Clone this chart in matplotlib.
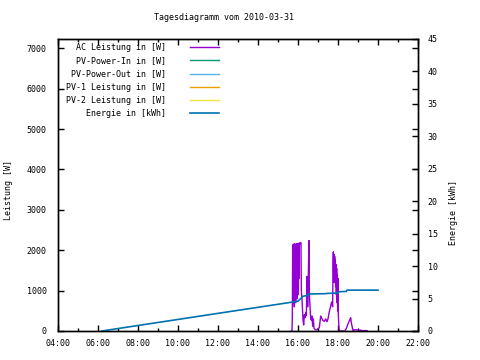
import matplotlib
matplotlib.use("Agg")
import matplotlib.pyplot as plt
from matplotlib.ticker import MultipleLocator, FuncFormatter

plt.rcParams['font.family'] = 'DejaVu Sans Mono'
plt.rcParams['font.size'] = 6

# AC Leistung [W] (Zeit als HH:MM)
ac_zeit = ["15:40", "15:42", "15:43", "15:44", "15:45", "15:46", "15:47", "15:48", "15:49", "15:50",
           "15:51", "15:52", "15:53", "15:54", "15:55", "15:56", "15:57", "15:58", "15:59", "16:00",
           "16:01", "16:02", "16:03", "16:04", "16:05", "16:06", "16:07", "16:08", "16:09", "16:10",
           "16:12", "16:15", "16:17", "16:19", "16:21", "16:23", "16:25", "16:27", "16:29", "16:31",
           "16:33", "16:34", "16:36", "16:38", "16:40", "16:42", "16:44", "16:46", "16:48", "16:51",
           "16:54", "16:57", "17:00", "17:04", "17:08", "17:11", "17:15", "17:19", "17:23", "17:27",
           "17:30", "17:34", "17:38", "17:41", "17:44", "17:45", "17:46", "17:47", "17:48", "17:49",
           "17:50", "17:51", "17:52", "17:53", "17:54", "17:55", "17:56", "17:57", "17:58", "17:59",
           "18:00", "18:01", "18:03", "18:06", "18:20", "18:25", "18:30", "18:35", "18:38", "18:40",
           "18:44", "18:46", "18:48", "18:55", "19:05", "19:10", "19:12", "19:15", "19:27", "19:28"]
ac_leistung = [0, 0, 380, 2100, 700, 2150, 900, 2130, 600, 2160,
               1000, 2140, 700, 2150, 1200, 2160, 800, 2150, 1400, 2170,
               900, 2160, 1300, 2180, 2150, 2170, 2160, 2190, 2150, 1000,
               780, 280, 150, 400, 330, 450, 380, 1350, 600, 1400,
               2240, 950, 600, 320, 270, 370, 120, 300, 70, 40,
               25, 30, 60, 80, 370, 320, 260, 240, 300, 230,
               300, 480, 620, 720, 600, 1600, 1960, 1300, 1900, 1200,
               1850, 1500, 1750, 1100, 1650, 900, 1550, 700, 1400, 500,
               1300, 400, 50, 0, 0, 60, 180, 270, 330, 200,
               50, 0, 30, 30, 20, 20, 0, 10, 10, 0]

# Energie [kWh]
energie_zeit = ["06:12", "08:00", "10:00", "12:00", "14:00", "15:45", "16:00", "16:08", "16:15", "16:30",
                "16:32", "17:20", "17:30", "18:00", "18:02", "18:25", "18:27", "20:00"]
energie = [0, 0.85, 1.78, 2.72, 3.65, 4.47, 4.6, 5.0, 5.35, 5.5,
           5.7, 5.75, 5.8, 5.85, 6.05, 6.1, 6.3, 6.3]

labels = ["AC Leistung in [W]", "PV-Power-In in [W]", "PV-Power-Out in [W]",
          "PV-1 Leistung in [W]", "PV-2 Leistung in [W]", "Energie in [kWh]"]
farben = ["#9400d3", "#009e73", "#56b4e9", "#e69f00", "#f0e442", "#0072b2"]


def stunden(liste):
    return [int(t[:2]) + int(t[3:]) / 60 for t in liste]


fig = plt.figure(figsize=(4.8, 3.6), dpi=100)
ax = fig.add_axes([58 / 480, 29 / 360, 360 / 480, 292 / 360])
ax2 = ax.twinx()

breite = max(len(l) for l in labels)
texte = [l.rjust(breite) for l in labels]

h = []
h += ax.plot(stunden(ac_zeit), ac_leistung, color=farben[0], lw=1.0)
for f in farben[1:5]:
    h += ax.plot([], [], color=f, lw=1.0)
h += ax2.plot(stunden(energie_zeit), energie, color=farben[5], lw=1.2)

ax.set_xlim(4, 22)
ax.set_ylim(0, 7230)
ax2.set_ylim(0, 45)

ax.xaxis.set_major_locator(MultipleLocator(2))
ax.xaxis.set_minor_locator(MultipleLocator(1))
ax.xaxis.set_major_formatter(FuncFormatter(lambda v, p: "%02d:00" % int(round(v))))
ax.yaxis.set_major_locator(MultipleLocator(1000))
ax2.yaxis.set_major_locator(MultipleLocator(5))

ax.tick_params(which='both', direction='in', top=True, right=True, width=1)
ax.tick_params(which='major', length=4)
ax.tick_params(which='minor', length=2)
ax.tick_params(axis='y', pad=8)
ax.tick_params(axis='x', pad=6)
ax2.tick_params(direction='in', length=4, width=1, pad=7)
for a in (ax, ax2):
    for s in a.spines.values():
        s.set_linewidth(1)

ax.set_ylabel("Leistung [W]")
ax.yaxis.set_label_coords(-0.125, 0.483)
ax2.set_ylabel("Energie [kWh]")
ax2.yaxis.set_label_coords(1.087, 0.405)

fig.text(223.5 / 480, 1 - 18 / 360, "Tagesdiagramm vom 2010-03-31", ha='center', va='center')

ax2.legend(h, texte, loc='upper left', bbox_to_anchor=(0.011, 1.0), frameon=False,
           markerfirst=False, handlelength=3.4, handletextpad=2.9, labelspacing=0.5,
           borderpad=0.3, borderaxespad=0.2, prop={'family': 'DejaVu Sans Mono', 'size': 6})

fig.savefig("out.png", dpi=100)
plt.close()
